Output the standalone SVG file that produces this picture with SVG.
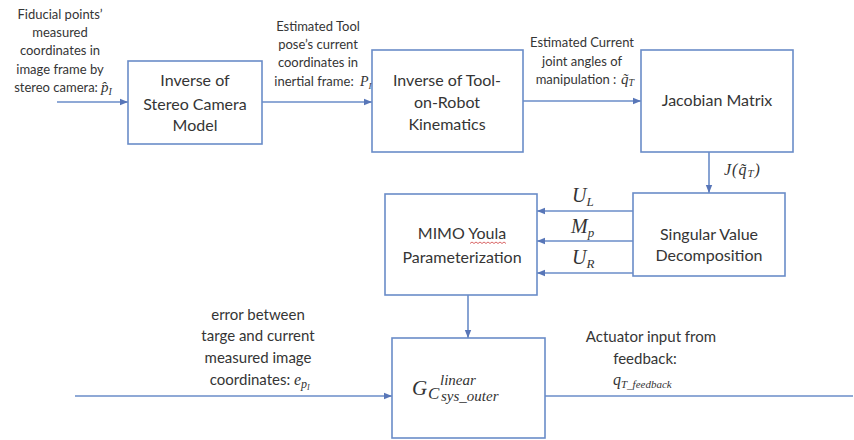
<svg xmlns="http://www.w3.org/2000/svg" width="854" height="440" viewBox="0 0 854 440">
  <defs>
    <marker id="arrow" markerUnits="userSpaceOnUse" markerWidth="8" markerHeight="8" viewBox="0 0 8 8" refX="8" refY="4" orient="auto">
      <path d="M0,0.8 L8,4 L0,7.2 Z" fill="#5876b8"/>
    </marker>
    <style>
      .box { fill: #ffffff; stroke: #6a8cc8; stroke-width: 1.6; }
      .wire { fill: none; stroke: #6a8cc8; stroke-width: 1.6; }
      .lbl { font-family: Lato, "Liberation Sans", sans-serif; fill: #353535; text-anchor: middle; }
      .sm { font-size: 13px; }
      .md { font-size: 15px; }
      .bx { font-size: 16px; }
      .m { font-family: "Liberation Serif", "DejaVu Serif", serif; font-style: italic; fill: #333333; }
    </style>
  </defs>

  <rect width="854" height="440" fill="#ffffff"/>

  <!-- connectors -->
  <g id="connectors">
    <line class="wire" x1="57" y1="102" x2="128" y2="102" marker-end="url(#arrow)"/>
    <line class="wire" x1="262" y1="102" x2="372" y2="102" marker-end="url(#arrow)"/>
    <line class="wire" x1="523" y1="101" x2="641" y2="101" marker-end="url(#arrow)"/>
    <line class="wire" x1="709" y1="152" x2="709" y2="193" marker-end="url(#arrow)"/>
    <line class="wire" x1="633" y1="211" x2="537" y2="211" marker-end="url(#arrow)"/>
    <line class="wire" x1="633" y1="241" x2="537" y2="241" marker-end="url(#arrow)"/>
    <line class="wire" x1="633" y1="273" x2="537" y2="273" marker-end="url(#arrow)"/>
    <line class="wire" x1="468" y1="295" x2="468" y2="338" marker-end="url(#arrow)"/>
    <line class="wire" x1="75" y1="396" x2="392" y2="396" marker-end="url(#arrow)"/>
    <line class="wire" x1="545" y1="396" x2="853" y2="396"/>
  </g>

  <!-- blocks -->
  <g id="stereo-model">
    <rect class="box" x="128" y="61" width="134" height="83"/>
    <text class="lbl bx" x="195" y="86">Inverse of</text>
    <text class="lbl bx" x="195" y="110">Stereo Camera</text>
    <text class="lbl bx" x="195" y="131">Model</text>
  </g>

  <g id="tool-kinematics">
    <rect class="box" x="372" y="50" width="151" height="102"/>
    <text class="lbl bx" x="447" y="86">Inverse of Tool-</text>
    <text class="lbl bx" x="447" y="108">on-Robot</text>
    <text class="lbl bx" x="447" y="130">Kinematics</text>
  </g>

  <g id="jacobian">
    <rect class="box" x="641" y="50" width="152" height="102"/>
    <text class="lbl bx" x="717" y="106">Jacobian Matrix</text>
  </g>

  <g id="svd">
    <rect class="box" x="633" y="193" width="152" height="83"/>
    <text class="lbl bx" x="709" y="240">Singular Value</text>
    <text class="lbl bx" x="709" y="261">Decomposition</text>
  </g>

  <g id="youla">
    <rect class="box" x="385" y="194" width="152" height="101"/>
    <text class="lbl bx" x="462" y="239">MIMO Youla</text>
    <text class="lbl bx" x="462" y="263">Parameterization</text>
    <!-- spell-check squiggle under "Youla" -->
    <path d="M470,243.5 l2,-1.5 l2,1.5 l2,-1.5 l2,1.5 l2,-1.5 l2,1.5 l2,-1.5 l2,1.5 l2,-1.5 l2,1.5 l2,-1.5 l2,1.5 l2,-1.5 l2,1.5 l2,-1.5 l2,1.5 l2,-1.5 l2,1.5" fill="none" stroke="#d04040" stroke-width="0.8"/>
  </g>

  <g id="outer-controller">
    <rect class="box" x="392" y="338" width="153" height="100"/>
    <text class="m" x="412" y="395" font-size="21">G</text>
    <text class="m" x="428" y="399" font-size="17">C</text>
    <text class="m" x="440" y="385" font-size="15">linear</text>
    <text class="m" x="441" y="401" font-size="15">sys_outer</text>
  </g>

  <!-- signal labels -->
  <g id="label-fiducial">
    <text class="lbl sm" x="60" y="19">Fiducial points’</text>
    <text class="lbl sm" x="60" y="37">measured</text>
    <text class="lbl sm" x="60" y="55">coordinates in</text>
    <text class="lbl sm" x="60" y="74">image frame by</text>
    <text class="lbl sm" x="56" y="92">stereo camera: </text>
    <text class="m" x="101" y="92" font-size="15">p̂<tspan font-size="10" dy="3">I</tspan></text>
  </g>

  <g id="label-pose">
    <text class="lbl sm" x="318" y="31">Estimated Tool</text>
    <text class="lbl sm" x="318" y="49">pose’s current</text>
    <text class="lbl sm" x="318" y="67">coordinates in</text>
    <text class="lbl sm" x="314" y="86">inertial frame: </text>
    <text class="m" x="360" y="86" font-size="14">P<tspan font-size="9" dy="3">I</tspan></text>
  </g>

  <g id="label-joints">
    <text class="lbl sm" x="582" y="47">Estimated Current</text>
    <text class="lbl sm" x="582" y="66">joint angles of</text>
    <text class="lbl sm" x="576" y="84">manipulation : </text>
    <text class="m" x="621" y="84" font-size="15">q̃<tspan font-size="10" dy="2">T</tspan></text>
  </g>

  <g id="label-jacobian">
    <text class="m" x="724" y="175" font-size="16" letter-spacing="1">J(q̃<tspan font-size="11" dy="2">T</tspan><tspan dy="-2">)</tspan></text>
  </g>

  <g id="label-svd-outputs">
    <text class="m" x="572" y="202" font-size="20">U<tspan font-size="13" dy="4">L</tspan></text>
    <text class="m" x="571" y="233" font-size="20">M<tspan font-size="13" dy="4">p</tspan></text>
    <text class="m" x="572" y="264" font-size="20">U<tspan font-size="13" dy="4">R</tspan></text>
  </g>

  <g id="label-error">
    <text class="lbl md" x="258" y="320">error between</text>
    <text class="lbl md" x="258" y="341">targe and current</text>
    <text class="lbl md" x="258" y="363">measured image</text>
    <text class="lbl md" x="250" y="385">coordinates: </text>
    <text class="m" x="294" y="385" font-size="16">e<tspan font-size="12" dy="3">p</tspan><tspan font-size="8" dy="2">I</tspan></text>
  </g>

  <g id="label-actuator">
    <text class="lbl md" x="651" y="342">Actuator input from</text>
    <text class="lbl md" x="645" y="364">feedback:</text>
    <text class="m" x="613" y="385" font-size="16">q<tspan font-size="11" dy="3">T_feedback</tspan></text>
  </g>
</svg>
